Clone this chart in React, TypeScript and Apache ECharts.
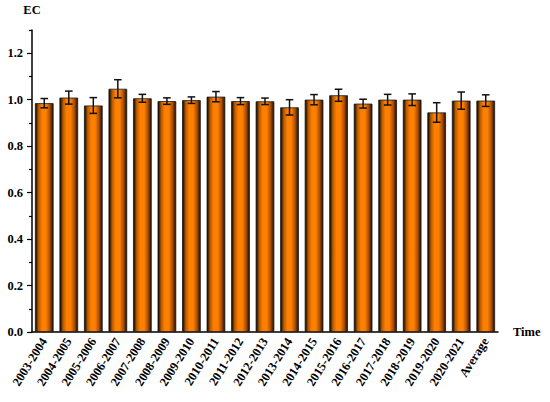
import React, { useEffect, useRef } from "react";
import * as echarts from "echarts";

const categories = [
  "2003-2004", "2004-2005", "2005-2006", "2006-2007", "2007-2008", "2008-2009",
  "2009-2010", "2010-2011", "2011-2012", "2012-2013", "2013-2014", "2014-2015",
  "2015-2016", "2016-2017", "2017-2018", "2018-2019", "2019-2020", "2020-2021", "Average",
];
const ecValues = [
  0.985, 1.009, 0.975, 1.047, 1.006, 0.994, 0.998, 1.013, 0.994, 0.993, 0.967,
  1.0, 1.019, 0.983, 1.0, 1.0, 0.945, 0.996, 0.996,
];
const ecErrors = [
  0.02, 0.028, 0.034, 0.039, 0.017, 0.014, 0.014, 0.022, 0.015, 0.014, 0.033,
  0.022, 0.026, 0.019, 0.023, 0.025, 0.042, 0.037, 0.025,
];
const majorTicks = [0, 0.2, 0.4, 0.6, 0.8, 1.0, 1.2];
const minorTicks = [0.1, 0.3, 0.5, 0.7, 0.9, 1.1, 1.3];

const FONT = "'Liberation Serif', 'DejaVu Serif', serif";

export default function App() {
  const ref = useRef<HTMLDivElement>(null);
  useEffect(() => {
    if (!ref.current) return;
    const chart = echarts.init(ref.current, null, { renderer: "svg" });
    const errData = categories.map((c, i) => [i, ecValues[i] - ecErrors[i], ecValues[i] + ecErrors[i]]);
    chart.setOption({
      animation: false,
      backgroundColor: "#ffffff",
      grid: { left: 32, right: 52, top: 30, bottom: 70, containLabel: false },
      xAxis: {
        type: "category",
        data: categories,
        name: "Time",
        nameLocation: "end",
        nameGap: 15,
        nameTextStyle: { fontFamily: FONT, fontWeight: "bold", fontSize: 12.5, color: "#000", verticalAlign: "middle" },
        axisLine: { lineStyle: { color: "#000", width: 1.5 } },
        axisTick: { alignWithLabel: true, length: 5, lineStyle: { color: "#000", width: 1.2 } },
        axisLabel: {
          interval: 0,
          rotate: 58,
          margin: 7,
          fontFamily: FONT,
          fontWeight: "bold",
          fontSize: 12.5,
          color: "#000",
        },
        splitLine: { show: false },
      },
      yAxis: [
        {
          type: "value",
          min: 0,
          max: 1.3,
          interval: 0.2,
          name: "EC",
          nameLocation: "end",
          nameGap: 14,
          nameTextStyle: { fontFamily: FONT, fontWeight: "bold", fontSize: 12.5, color: "#000", align: "center" },
          axisLine: { show: true, lineStyle: { color: "#000", width: 1.5 } },
          axisTick: { show: true, length: 5, customValues: majorTicks, lineStyle: { color: "#000", width: 1.2 } },
          axisLabel: {
            customValues: majorTicks,
            margin: 9,
            fontFamily: FONT,
            fontWeight: "bold",
            fontSize: 12.5,
            color: "#000",
            formatter: (v: number) => v.toFixed(1),
          },
          splitLine: { show: false },
        },
        {
          type: "value",
          min: 0,
          max: 1.3,
          position: "left",
          axisLine: { show: false },
          axisTick: { show: true, length: 3, customValues: minorTicks, lineStyle: { color: "#000", width: 1.2 } },
          axisLabel: { show: false },
          splitLine: { show: false },
        },
      ],
      series: [
        {
          type: "bar",
          data: ecValues,
          barCategoryGap: "24%",
          itemStyle: {
            borderColor: "#1a1a1a",
            borderWidth: 0.8,
            color: new echarts.graphic.LinearGradient(0, 0, 1, 0, [
              { offset: 0, color: "#000000" },
              { offset: 0.18, color: "#b85a00" },
              { offset: 0.38, color: "#ff8000" },
              { offset: 0.6, color: "#ff8000" },
              { offset: 0.82, color: "#a84c00" },
              { offset: 1, color: "#1a0c00" },
            ]),
          },
          z: 2,
        },
        {
          type: "custom",
          data: errData,
          z: 5,
          renderItem: (params: any, api: any) => {
            const x = api.value(0);
            const lo = api.coord([x, api.value(1)]);
            const hi = api.coord([x, api.value(2)]);
            const hw = 3.8;
            const style = { stroke: "#111", lineWidth: 1.5 };
            return {
              type: "group",
              children: [
                { type: "line", shape: { x1: lo[0], y1: lo[1], x2: hi[0], y2: hi[1] }, style },
                { type: "line", shape: { x1: lo[0] - hw, y1: lo[1], x2: lo[0] + hw, y2: lo[1] }, style },
                { type: "line", shape: { x1: hi[0] - hw, y1: hi[1], x2: hi[0] + hw, y2: hi[1] }, style },
              ],
            };
          },
        },
      ],
    });
    return () => chart.dispose();
  }, []);
  return <div ref={ref} style={{ width: 550, height: 402, position: "absolute", left: 0, top: 0 }} />;
}
